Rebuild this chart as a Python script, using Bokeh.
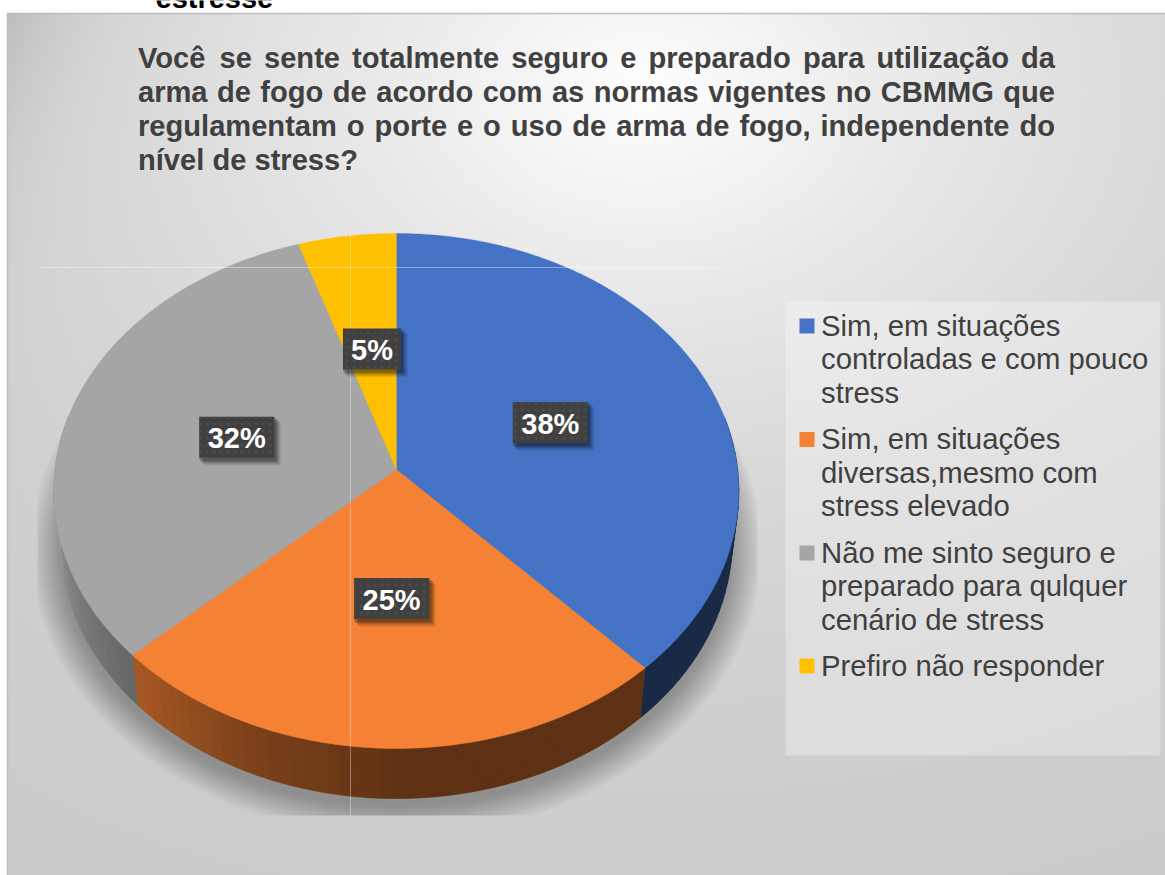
import numpy as np
from bokeh.plotting import figure
from bokeh.models import Range1d
from bokeh.core.properties import value
from bokeh.embed import file_html
from bokeh.resources import INLINE

# ---- data ----
categories = ["Sim, em situações controladas e com pouco stress",
              "Sim, em situações diversas,mesmo com stress elevado",
              "Não me sinto seguro e preparado para qulquer cenário de stress",
              "Prefiro não responder"]
legend_lines = [["Sim, em situações", "controladas e com pouco", "stress"],
                ["Sim, em situações", "diversas,mesmo com", "stress elevado"],
                ["Não me sinto seguro e", "preparado para qulquer", "cenário de stress"],
                ["Prefiro não responder"]]
values = [38, 25, 32, 5]
colors = ["#4472C4", "#F58134", "#A5A5A5", "#FFC000"]
title_lines = ["Você se sente totalmente seguro e preparado para utilização da",
               "arma de fogo de acordo com as normas vigentes no CBMMG que",
               "regulamentam o porte e o uso de arma de fogo, independente do",
               "nível de stress?"]
clipped_heading = "estresse"

FONT = "Liberation Sans"
W, H = 1165, 875

p = figure(width=W, height=H, output_backend="svg", toolbar_location=None,
           x_range=Range1d(0, W), y_range=Range1d(H, 0), min_border=0,
           background_fill_color="white", border_fill_color="white", outline_line_color=None)
p.axis.visible = False
p.grid.visible = False

# ---- background gradient (integer-aligned cells, overlapping to hide seams) ----
X0, Y0 = 7, 13
STEP = 8
xe = np.arange(X0, W + STEP, STEP)
ye = np.arange(Y0, H + STEP, STEP)
xl, yt = np.meshgrid(xe[:-1], ye[:-1])
xc, yc = xl + STEP / 2, yt + STEP / 2
d = np.hypot(xc - 640, 1.4 * (yc - 90))
g = 255 - 54 * np.tanh(d / 650) - 26 * np.exp(-(xc - X0) / 70) * np.exp(-(yc - Y0) / 140)
g = np.clip(g, 0, 255).astype(int).ravel()
p.quad(left=xl.ravel(), right=xl.ravel() + STEP + 1, top=yt.ravel(), bottom=yt.ravel() + STEP + 1,
       fill_color=["#%02x%02x%02x" % (v, v, v) for v in g], line_color=None)
p.line([X0, X0, W], [H, Y0, Y0], line_color="#bdbdbd", line_width=1.5)

# ---- perspective pie geometry ----
CX, CY, RX, RY, K = 395.8, 469.0, 341.3, 255.7, 0.0835
DEPTH, SHRINK = 50.0, 0.98
fractions = np.array(values, float) / sum(values)
edges = np.concatenate([[0], np.cumsum(fractions)]) * 2 * np.pi


def project(theta, r=1.0):
    w = 1 + K * r * np.cos(theta)
    return CX + RX * r * np.sin(theta) / w, CY - RY * r * np.cos(theta) / w


def bottom(theta, grow=0.0, drop=0.0):
    x, y = project(theta)
    x = CX + (x - CX) * SHRINK
    y = y + DEPTH + drop
    if grow:
        ex, ey = CX, CY + 21 + DEPTH
        n = np.hypot((x - ex), (y - ey))
        x = x + (x - ex) / n * grow
        y = y + (y - ey) / n * grow
    return x, y


# soft shadow, clipped to the plot-area rectangle of the original
all_t = np.linspace(0, 2 * np.pi, 240)
for grow in np.arange(30, -1, -2.0):
    sx, sy = bottom(all_t, grow, 8.0)
    p.patch(np.clip(sx, 37, 757), np.clip(sy, 267, 815), fill_color="#000000",
            fill_alpha=0.018, line_color=None)


def wall_color(i, th):
    deg = np.degrees(th)
    if i == 0:
        f = 0.36
    elif i == 1:
        f = np.interp(deg, [178, 200, 227], [0.385, 0.49, 0.69])
    else:
        f = np.interp(deg, [227, 245, 270], [0.62, 0.75, 0.98])
    base = colors[i]
    r, gg, b = [int(base[j:j + 2], 16) for j in (1, 3, 5)]
    return "#%02x%02x%02x" % (int(r * f), int(gg * f), int(b * f))


for i in range(len(values)):
    a0, a1 = max(edges[i], np.radians(78)), min(edges[i + 1], np.radians(282))
    if a1 <= a0:
        continue
    n = max(2, int(np.degrees(a1 - a0) / 2))
    ts = np.linspace(a0, a1, n + 1)
    for t0, t1 in zip(ts[:-1], ts[1:]):
        th = np.linspace(t0, t1, 4)
        tx, ty = project(th)
        bx, by = bottom(th)
        c = wall_color(i, (t0 + t1) / 2)
        p.patch(np.r_[tx, bx[::-1]], np.r_[ty, by[::-1]], fill_color=c, line_color=c, line_width=0.7)

# top faces
for i in range(len(values)):
    th = np.linspace(edges[i], edges[i + 1], 160)
    fx, fy = project(th)
    p.patch(np.r_[CX, fx], np.r_[CY, fy], fill_color=colors[i], line_color=colors[i], line_width=0.4)

# stray thin lines of the plot-area frame
p.line([40, 722], [267, 267], line_color="white", line_alpha=0.4, line_width=1)
p.line([350, 350], [235, 815], line_color="white", line_alpha=0.35, line_width=1)

# ---- data labels ----
mids = (edges[:-1] + edges[1:]) / 2
lx, ly = project(mids, 0.49)
lx = lx + 0.8
ly = ly - 1.5
labels = ["%d%%" % v for v in values]
bw = np.array([58.0 if v < 10 else 75.0 for v in values])
for off, a in zip([7, 6, 5, 4, 3, 2], [0.05, 0.07, 0.09, 0.11, 0.13, 0.15]):
    p.rect(lx + off - 1, ly + off, width=bw + 2, height=41 + 2, fill_color="black", fill_alpha=a, line_color=None)
p.rect(lx, ly, width=bw, height=41, fill_color="#404040", line_color=None,
       hatch_pattern="dot", hatch_color="#4c4c4c", hatch_scale=7.0, hatch_alpha=0.8)
p.text(lx, ly + 1, text=labels, text_color="white", text_font=value(FONT), text_font_style="bold",
       text_font_size="29px", text_align="center", text_baseline="middle")

# ---- title (justified, word by word) ----
BOLD = dict(zip("abcdefghijklmnopqrstuvwxyzçêãí,?VACBMGN ",
                [556, 611, 556, 611, 556, 333, 611, 611, 278, 278, 556, 278, 889, 611, 611, 611, 611, 389,
                 556, 333, 611, 556, 778, 556, 556, 500, 556, 556, 556, 278, 278, 611,
                 667, 722, 722, 722, 833, 778, 722, 278]))
T_SIZE, T_LEFT, T_RIGHT, T_BASE, T_STEP = 29.1, 137.5, 1054.5, 57.5, 34.0


def bold_w(s):
    return sum(BOLD[c] for c in s) * T_SIZE / 1000


wx, wy, wt = [], [], []
for k, line in enumerate(title_lines):
    words = line.split(" ")
    widths = [bold_w(w) for w in words]
    last = k == len(title_lines) - 1
    gap = BOLD[" "] * T_SIZE / 1000 if last else (T_RIGHT - T_LEFT - sum(widths)) / (len(words) - 1)
    x = T_LEFT
    for w, wd in zip(words, widths):
        wx.append(x); wy.append(T_BASE + k * T_STEP); wt.append(w)
        x += wd + gap
p.text(wx, wy, text=wt, text_color="#404040", text_font=value(FONT), text_font_style="bold",
       text_font_size="%.1fpx" % T_SIZE, text_align="left", text_baseline="alphabetic")

p.text([155.0], [-2.5], text=[clipped_heading], text_color="black", text_font=value(FONT),
       text_font_style="bold", text_font_size="29px", text_align="left", text_baseline="alphabetic")

# ---- legend ----
p.quad(left=[785], right=[1160], top=[301], bottom=[755], fill_color="white", fill_alpha=0.3, line_color=None)
L_X, L_BASES = 820.5, [324.5, 438.0, 551.5, 664.5]
sx, sy, tx, ty, tt = [], [], [], [], []
for i, lines in enumerate(legend_lines):
    sx.append(806.5); sy.append(L_BASES[i] + 1)
    for j, s in enumerate(lines):
        tx.append(L_X); ty.append(L_BASES[i] + j * 33.7); tt.append(s)
p.rect(sx, sy, width=15, height=15, fill_color=colors, line_color=None)
p.text(tx, ty, text=tt, text_color="#404040", text_font=value(FONT), text_font_size="29.3px",
       text_align="left", text_baseline="alphabetic")

open("out.html", "w").write(file_html(p, INLINE))
